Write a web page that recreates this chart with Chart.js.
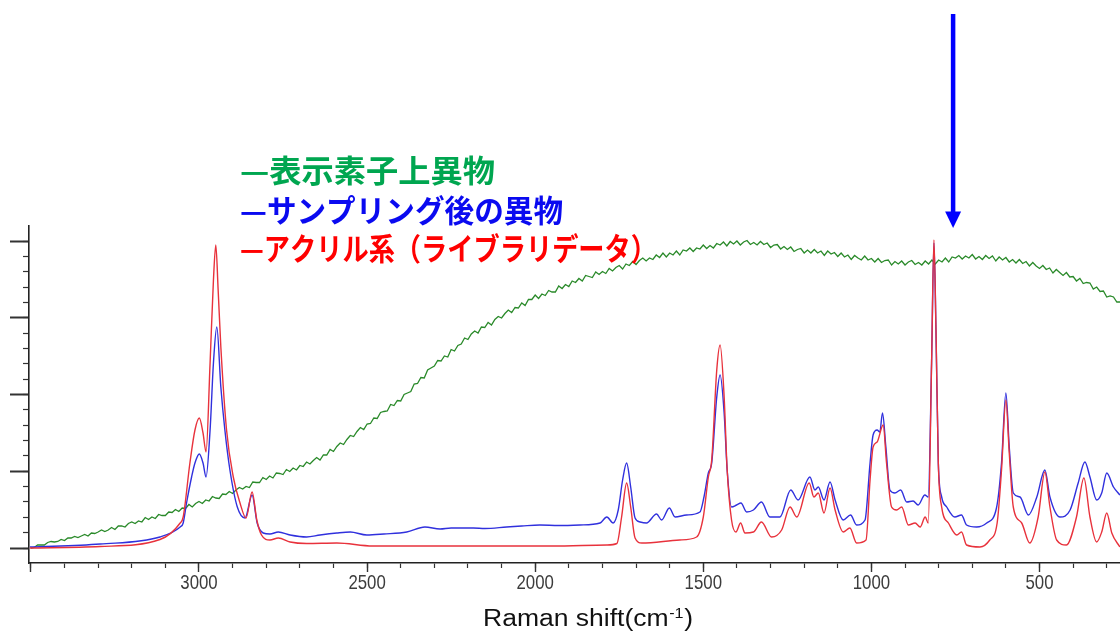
<!DOCTYPE html>
<html>
<head>
<meta charset="utf-8">
<script src="https://cdn.jsdelivr.net/npm/chart.js@4.4.1/dist/chart.umd.min.js"></script>
<style>
  html, body { margin: 0; padding: 0; background: #fff; }
  #wrap { width: 1120px; height: 634px; position: relative; }
</style>
</head>
<body>
<div id="wrap"><canvas id="ramanChart"></canvas></div>
<script>
// Raman shift (cm-1) / intensity (a.u.)

// acrylic library spectrum (red)
const redShift = [3503, 3294, 3116, 3056, 3047, 3027, 3012, 2999, 2988, 2979, 2967, 2957, 2950, 2943, 2935, 2918, 2898, 2878, 2860, 2842,
  2828, 2814, 2789, 2764, 2729, 2680, 2590, 2483, 2300, 2100, 1950, 1787, 1757, 1743, 1728, 1716, 1703, 1683, 1570, 1520,
  1500, 1485, 1475, 1460, 1450, 1438, 1429, 1416, 1403, 1389, 1376, 1351, 1327, 1297, 1267, 1242, 1222, 1185, 1171, 1158,
  1141, 1123, 1108, 1084, 1064, 1044, 1016, 1004, 995, 983, 965, 955, 940, 925, 910, 890, 870, 855, 840, 831,
  821, 814, 808, 801, 791, 771, 746, 732, 717, 677, 648, 626, 613, 600, 590, 578, 553, 529, 504, 484,
  469, 449, 420, 390, 368, 350, 330, 315, 300, 285, 261];
const redIntensity = [0, 1.5, 8.5, 25, 31, 85, 118, 130, 115, 96, 185, 268, 303, 258, 201, 118, 71, 45, 30, 56,
  28, 13, 8, 10, 6, 4.5, 5, 2, 2, 2, 2, 3, 4.5, 31, 65, 41, 10, 5, 8, 11,
  31, 71, 88, 178, 203, 151, 78, 28, 16, 25, 15, 16, 26, 11, 18, 41, 31, 65, 51, 55,
  35, 60, 38, 16, 20, 5, 8, 68, 101, 106, 123, 85, 41, 38, 41, 23, 25, 21, 31, 25,
  185, 308, 220, 85, 41, 25, 13, 16, 3, 1, 8, 25, 78, 148, 95, 41, 25, 5, 31, 76,
  41, 8, 3, 31, 70, 31, 6, 16, 35, 15, 1];

// foreign matter after sampling (blue)
const blueShift = [3503, 3294, 3116, 3056, 3047, 3037, 3022, 3012, 2999, 2988, 2979, 2967, 2957, 2947, 2935, 2923, 2908, 2886, 2863, 2842,
  2827, 2809, 2789, 2764, 2729, 2680, 2640, 2590, 2550, 2501, 2450, 2382, 2328, 2283, 2250, 2184, 2150, 2085, 2040, 1986,
  1930, 1867, 1807, 1787, 1768, 1753, 1740, 1728, 1716, 1703, 1688, 1669, 1639, 1624, 1601, 1584, 1550, 1510, 1498, 1485,
  1475, 1460, 1450, 1438, 1429, 1416, 1401, 1388, 1371, 1351, 1327, 1302, 1272, 1240, 1218, 1183, 1168, 1158, 1141, 1123,
  1108, 1084, 1062, 1044, 1019, 1004, 995, 983, 975, 967, 957, 945, 930, 913, 895, 876, 861, 841, 831, 821,
  814, 808, 801, 791, 776, 752, 732, 717, 687, 657, 628, 613, 600, 590, 578, 558, 533, 508, 484, 469,
  439, 409, 385, 365, 350, 330, 315, 300, 280, 261];
const blueIntensity = [1, 4, 11, 21, 25, 45, 71, 85, 94, 85, 71, 118, 185, 221, 161, 118, 78, 41, 30, 53,
  25, 15, 14, 16, 13, 11, 13, 15, 16, 13, 14, 16, 21, 19, 20, 20, 19.5, 21, 22, 23,
  22.5, 23, 25, 31, 25, 38, 68, 85, 61, 30, 26, 25, 34, 28, 40, 31, 33, 36, 51, 75,
  85, 151, 173, 135, 78, 41, 43, 45, 36, 38, 46, 31, 31, 58, 48, 71, 58, 61, 48, 66,
  48, 28, 33, 23, 28, 85, 113, 118, 116, 135, 101, 58, 55, 58, 46, 47, 43, 53, 51, 185,
  305, 218, 85, 51, 41, 31, 33, 23, 21, 25, 40, 85, 155, 101, 55, 51, 33, 51, 78, 51,
  31, 38, 65, 86, 71, 48, 55, 75, 61, 53];

// foreign matter on the display element (green, fluorescence, noisy)
const greenShift = [3500, 3490, 3480, 3470, 3460, 3450, 3440, 3430, 3420, 3410, 3400, 3390, 3380, 3370, 3360, 3350, 3340, 3330, 3320, 3310,
  3300, 3290, 3280, 3270, 3260, 3250, 3240, 3230, 3220, 3210, 3200, 3190, 3180, 3170, 3160, 3150, 3140, 3130, 3120, 3110,
  3100, 3090, 3080, 3070, 3060, 3050, 3040, 3030, 3020, 3010, 3000, 2990, 2980, 2970, 2960, 2950, 2940, 2930, 2920, 2910,
  2900, 2890, 2880, 2870, 2860, 2850, 2840, 2830, 2820, 2810, 2800, 2790, 2780, 2770, 2760, 2750, 2740, 2730, 2720, 2710,
  2700, 2690, 2680, 2670, 2660, 2650, 2640, 2630, 2620, 2610, 2600, 2590, 2580, 2570, 2560, 2550, 2540, 2530, 2520, 2510,
  2500, 2490, 2480, 2470, 2460, 2450, 2440, 2430, 2420, 2410, 2400, 2390, 2380, 2370, 2360, 2350, 2340, 2330, 2320, 2310,
  2300, 2290, 2280, 2270, 2260, 2250, 2240, 2230, 2220, 2210, 2200, 2190, 2180, 2170, 2160, 2150, 2140, 2130, 2120, 2110,
  2100, 2090, 2080, 2070, 2060, 2050, 2040, 2030, 2020, 2010, 2000, 1990, 1980, 1970, 1960, 1950, 1940, 1930, 1920, 1910,
  1900, 1890, 1880, 1870, 1860, 1850, 1840, 1830, 1820, 1810, 1800, 1790, 1780, 1770, 1760, 1750, 1740, 1730, 1720, 1710,
  1700, 1690, 1680, 1670, 1660, 1650, 1640, 1630, 1620, 1610, 1600, 1590, 1580, 1570, 1560, 1550, 1540, 1530, 1520, 1510,
  1500, 1490, 1480, 1470, 1460, 1450, 1440, 1430, 1420, 1410, 1400, 1390, 1380, 1370, 1360, 1350, 1340, 1330, 1320, 1310,
  1300, 1290, 1280, 1270, 1260, 1250, 1240, 1230, 1220, 1210, 1200, 1190, 1180, 1170, 1160, 1150, 1140, 1130, 1120, 1110,
  1100, 1090, 1080, 1070, 1060, 1050, 1040, 1030, 1020, 1010, 1000, 990, 980, 970, 960, 950, 940, 930, 920, 910,
  900, 890, 880, 870, 860, 850, 840, 830, 820, 810, 800, 790, 780, 770, 760, 750, 740, 730, 720, 710,
  700, 690, 680, 670, 660, 650, 640, 630, 620, 610, 600, 590, 580, 570, 560, 550, 540, 530, 520, 510,
  500, 490, 480, 470, 460, 450, 440, 430, 420, 410, 400, 390, 380, 370, 360, 350, 340, 330, 320, 310,
  300, 290, 280, 270, 260];
const greenIntensity = [0, 0.5, 3, 3, 3, 5.5, 6.5, 6, 6.5, 8.5, 7.5, 10, 10, 11.5, 10.5, 12, 13.5, 12, 15, 14.5,
  16, 18, 16.5, 18, 20.5, 18.5, 22, 22, 21, 24.5, 26, 24.5, 27, 26, 30.5, 28.5, 31, 29.5, 33.5, 32.5,
  32.5, 36, 35.5, 38.5, 36.5, 40, 39.5, 43.5, 41, 44.5, 46.5, 44.5, 48, 47, 51.5, 50, 49.5, 54, 53.5, 56.5,
  54.5, 58, 60.5, 59, 61.5, 60.5, 66, 65.5, 65.5, 70.5, 68.5, 72, 70, 75, 74.5, 73.5, 78.5, 76.5, 80, 78,
  82.5, 81.5, 86, 84, 87.5, 90.5, 88, 93, 93, 98.5, 96.5, 101.5, 105, 103.5, 108.5, 112.5, 111.5, 116.5, 120.5, 118.5,
  124, 124.5, 130, 129.5, 135.5, 136.5, 137, 143.5, 142.5, 147.5, 147, 153.5, 155, 156.5, 164, 164.5, 170.5, 170, 178, 180,
  182, 187.5, 187, 192, 191, 198.5, 197, 202.5, 204, 210, 208.5, 214, 217, 215, 221, 220.5, 225.5, 223, 228.5, 231.5,
  230, 234.5, 238, 235.5, 240.5, 240, 245, 242.5, 248.5, 248.5, 253, 249.5, 254, 252.5, 257.5, 256, 256, 262, 259.5, 263.5,
  261.5, 267, 265.5, 269.5, 267, 272.5, 271.5, 270.5, 276, 273.5, 276.5, 274.5, 279.5, 277, 280.5, 282.5, 279, 284, 282.5, 286.5,
  283.5, 287.5, 290, 287, 290, 288.5, 293, 290.5, 295, 291, 295, 293, 297, 293, 298, 297, 300, 296.5, 300, 299,
  303, 299.5, 302.5, 300, 304.5, 303, 306, 302, 306.5, 304, 307, 303, 306, 307.5, 303.5, 305.5, 303, 306.5, 303.5, 305,
  300.5, 303, 303.5, 299, 301.5, 298.5, 301, 296.5, 298.5, 299.5, 295, 298, 295, 298.5, 295, 297, 292.5, 297, 294, 295.5,
  291.5, 295, 291, 293, 288.5, 292.5, 290, 288, 292, 288, 289.5, 286, 289.5, 285.5, 287.5, 288, 283, 286.5, 284, 287,
  283, 286, 287.5, 283.5, 285.5, 283, 287, 284, 288, 284, 288, 286, 290, 286, 291, 290, 292.5, 289, 292, 290,
  293.5, 289, 291.5, 288.5, 292.5, 289.5, 292, 287, 291, 288, 290.5, 286, 288.5, 285, 288.5, 284.5, 286.5, 282, 285.5, 282,
  279.5, 282.5, 278.5, 280, 275, 278.5, 275.5, 272.5, 275.5, 271, 271.5, 267, 269.5, 264.5, 265.5, 265, 259, 261, 256.5, 257,
  251, 252, 251, 246, 246];

// axis ticks
const xMinorTicks = [3500, 3400, 3300, 3200, 3100, 3000, 2900, 2800, 2700, 2600, 2500, 2400, 2300, 2200, 2100, 2000, 1900, 1800,
  1700, 1600, 1500, 1400, 1300, 1200, 1100, 1000, 900, 800, 700, 600, 500, 400, 300];
const xMajorTicks = [3500, 3000, 2500, 2000, 1500, 1000, 500];
const xTickLabels = ['', '3000', '2500', '2000', '1500', '1000', '500'];
const yMajorTicks = [0, 76.75, 153.5, 230.25, 307];
const yMinorTicks = [0, 15.35, 30.7, 46.05, 61.4, 76.75, 92.1, 107.45, 122.8, 138.15, 153.5, 168.85, 184.2, 199.55,
  214.9, 230.25, 245.6, 260.95, 276.3, 291.65, 307];

const legendLabels = ['—表示素子上異物', '—サンプリング後の異物', '—アクリル系（ライブラリデータ）'];
const xTitle = 'Raman shift(cm';
const xTitleSup = '-1';

// arrow marking the 810 cm-1 band
const arrowShift = 757;
const arrowTop = 534;
const arrowTip = 320;

function toPoints(xs, ys) {
  return xs.map((v, i) => ({ x: v, y: ys[i] }));
}

const decorations = {
  id: 'decorations',
  afterDraw(chart) {
    const { ctx } = chart;
    const xs = chart.scales.x;
    const ys = chart.scales.y;
    ctx.save();

    // arrow
    const ax = xs.getPixelForValue(arrowShift);
    const aTop = ys.getPixelForValue(arrowTop);
    const aTip = ys.getPixelForValue(arrowTip);
    ctx.strokeStyle = '#0000FF';
    ctx.fillStyle = '#0000FF';
    ctx.lineWidth = 4.5;
    ctx.beginPath();
    ctx.moveTo(ax, aTop);
    ctx.lineTo(ax, aTip - 14);
    ctx.stroke();
    ctx.beginPath();
    ctx.moveTo(ax - 8, aTip - 16.5);
    ctx.lineTo(ax + 8, aTip - 16.5);
    ctx.lineTo(ax, aTip);
    ctx.closePath();
    ctx.fill();

    // x tick labels (narrow face)
    ctx.fillStyle = '#3c3c3c';
    ctx.font = '21px "Liberation Sans", Arial, sans-serif';
    ctx.textAlign = 'center';
    ctx.textBaseline = 'middle';
    xMajorTicks.forEach((v, i) => {
      if (!xTickLabels[i]) return;
      ctx.save();
      ctx.translate(chart.scales.x2.getPixelForValue(v), 583);
      ctx.scale(0.8, 1);
      ctx.fillText(xTickLabels[i], 0, 0);
      ctx.restore();
    });

    // legend text
    const legendColors = ['#00A650', '#0A0AF0', '#FF0000'];
    const legendY = [170, 210, 248];
    const legendW = [255, 323, 417];
    ctx.font = 'bold 31px "Noto Sans CJK JP", sans-serif';
    ctx.textAlign = 'left';
    legendLabels.forEach((t, i) => {
      const w = ctx.measureText(t).width;
      ctx.save();
      ctx.translate(240, legendY[i]);
      ctx.scale(legendW[i] / w, 1);
      ctx.fillStyle = legendColors[i];
      ctx.fillText(t, 0, 0);
      ctx.restore();
    });

    // x axis title with superscript
    ctx.fillStyle = '#111';
    ctx.textBaseline = 'alphabetic';
    ctx.font = '23px "Liberation Sans", Arial, sans-serif';
    const wa = ctx.measureText(xTitle).width;
    const wc = ctx.measureText(')').width;
    ctx.font = '14px "Liberation Sans", Arial, sans-serif';
    const wb = ctx.measureText(xTitleSup).width + 1;
    const total = wa + wb + wc;
    ctx.translate(588, 626);
    ctx.scale(210 / total, 1);
    const x0 = -total / 2;
    ctx.font = '23px "Liberation Sans", Arial, sans-serif';
    ctx.fillText(xTitle, x0, 0);
    ctx.fillText(')', x0 + wa + wb, 0);
    ctx.font = '14px "Liberation Sans", Arial, sans-serif';
    ctx.fillText(xTitleSup, x0 + wa + 0.5, -8);

    ctx.restore();
  }
};

const lineStyle = { pointRadius: 0, borderWidth: 1.4, cubicInterpolationMode: 'monotone', fill: false };

new Chart(document.getElementById('ramanChart'), {
  type: 'line',
  data: {
    datasets: [
      { label: 'アクリル系（ライブラリデータ）', data: toPoints(redShift, redIntensity), borderColor: '#E8323C', ...lineStyle },
      { label: 'サンプリング後の異物', data: toPoints(blueShift, blueIntensity), borderColor: '#3030DD', ...lineStyle },
      { label: '表示素子上異物', data: toPoints(greenShift, greenIntensity), borderColor: '#2A8A2A', ...lineStyle, borderWidth: 1.3, cubicInterpolationMode: 'default', tension: 0 }
    ]
  },
  options: {
    responsive: true,
    maintainAspectRatio: false,
    animation: false,
    events: [],
    layout: { padding: { top: 226, left: 0, right: 0, bottom: 0 } },
    plugins: { legend: { display: false }, tooltip: { enabled: false } },
    scales: {
      x: {
        type: 'linear', reverse: true, min: 260.6, max: 3505.6, position: 'bottom', weight: 0,
        afterBuildTicks: s => { s.ticks = xMinorTicks.map(v => ({ value: v })); },
        afterFit: s => { s.height = 0; },
        ticks: { display: false },
        grid: { drawOnChartArea: false, tickLength: 5, tickColor: '#333', tickWidth: 1.2 },
        border: { display: true, color: '#222', width: 1.6 }
      },
      x2: {
        type: 'linear', reverse: true, min: 260.6, max: 3505.6, position: 'bottom', weight: 1,
        afterBuildTicks: s => { s.ticks = xMajorTicks.map(v => ({ value: v })); },
        afterFit: s => { s.height = 71; },
        ticks: { display: false },
        grid: { drawOnChartArea: false, tickLength: 9, tickColor: '#333', tickWidth: 1.4 },
        border: { display: false }
      },
      y: {
        type: 'linear', min: -15, max: 322, position: 'left', weight: 1,
        afterBuildTicks: s => { s.ticks = yMajorTicks.map(v => ({ value: v })); },
        afterFit: s => { s.width = 29; },
        ticks: { display: false },
        grid: { drawOnChartArea: false, tickLength: 19, tickColor: '#333', tickWidth: 2 },
        border: { display: true, color: '#222', width: 1.6 }
      },
      y2: {
        type: 'linear', min: -15, max: 322, position: 'left', weight: 0,
        afterBuildTicks: s => { s.ticks = yMinorTicks.map(v => ({ value: v })); },
        afterFit: s => { s.width = 0; },
        ticks: { display: false },
        grid: { drawOnChartArea: false, tickLength: 6, tickColor: '#333', tickWidth: 1.2 },
        border: { display: false }
      }
    }
  },
  plugins: [decorations]
});
</script>
</body>
</html>
